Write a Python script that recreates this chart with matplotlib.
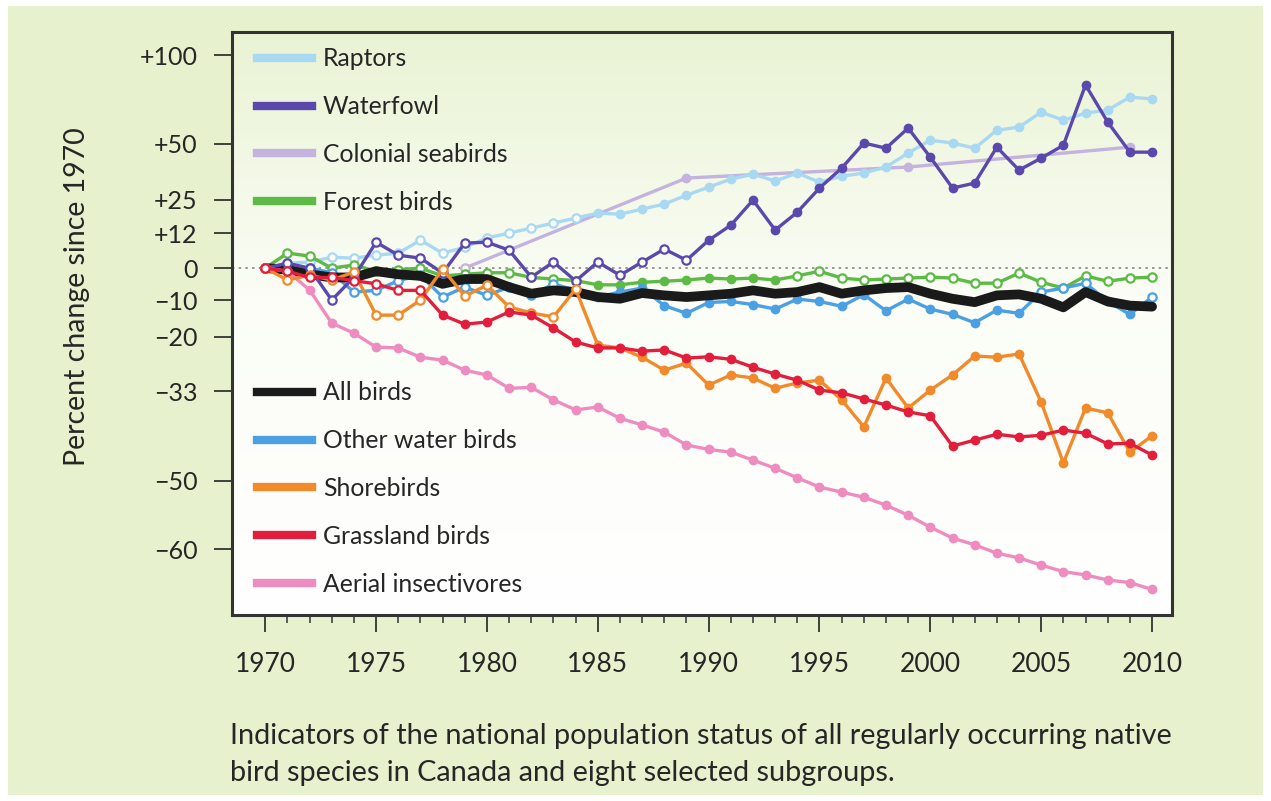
import numpy as np
import matplotlib
matplotlib.use("Agg")
import matplotlib.pyplot as plt
from matplotlib.lines import Line2D
from matplotlib.patches import Rectangle
from matplotlib.colors import LinearSegmentedColormap

plt.rcParams['font.family'] = ['Lato', 'DejaVu Sans']

years = list(range(1970, 2011))

raptors = [0, 1.6, 2.0, 3.6, 3.3, 4.3, 5.0, 9.5, 5.0, 7.0, 10.3, 12.1, 13.9, 15.8, 17.7,
           19.6, 19.2, 21.2, 23.2, 26.8, 30.2, 33.6, 35.8, 32.8, 36.3, 32.3, 34.9, 36.3,
           39.0, 45.5, 51.7, 50.3, 47.8, 56.7, 58.3, 66.2, 61.9, 65.7, 67.3, 74.6, 73.5]
waterfowl = [0, 1.6, 0, -9.9, -2.9, 8.8, 4.3, 3.3, -1.6, 8.5, 8.8, 6.0, -2.9, 2.0, -4.1,
             2.0, -2.3, 2.0, 6.4, 2.6, 9.5, 15.0, 24.8, 13.2, 20.0, 29.8, 38.5, 50.3,
             47.8, 57.8, 43.5, 29.8, 31.9, 48.3, 37.6, 43.1, 49.2, 81.6, 60.9, 45.9, 45.9]
seabird_years = [1979, 1989, 1999, 2009]
seabirds = [0, 34.1, 39.0, 48.3]
forest = [0, 5.0, 4.0, 0, 1.0, -1.0, -0.5, 0, -2.5, -2.0, -1.5, -1.5, -3.0, -3.5, -4.0,
          -5.3, -5.3, -4.5, -4.2, -3.8, -3.2, -3.5, -3.2, -3.8, -2.5, -1.0, -3.2, -3.8,
          -3.5, -3.2, -2.9, -3.2, -4.8, -4.8, -1.6, -4.5, -6.3, -2.5, -4.2, -3.2, -2.9]
all_birds = [0, -0.5, -2.0, -3.0, -3.0, -1.0, -2.0, -2.5, -5.0, -3.5, -3.5, -6.0, -8.0,
             -7.0, -7.5, -9.0, -9.5, -7.8, -8.5, -9.0, -8.5, -8.0, -7.0, -8.0, -7.5, -6.0,
             -8.0, -7.0, -6.3, -6.0, -8.0, -9.5, -10.5, -8.5, -8.2, -9.5, -12.0, -7.5,
             -10.3, -11.5, -11.8]
other_water = [0, -1.0, 0, -1.5, -7.5, -7.0, -4.0, -2.3, -9.0, -6.0, -8.5, -6.0, -8.5,
               -5.0, -7.0, -9.0, -7.5, -6.3, -11.5, -13.7, -10.6, -10.3, -11.2, -12.5,
               -9.6, -10.3, -11.7, -8.3, -13.0, -9.6, -12.5, -14.0, -16.3, -12.8, -13.7,
               -7.5, -6.3, -4.8, -10.3, -14.0, -9.0]
shorebirds = [0, -3.8, -2.3, -3.8, -1.3, -14.2, -14.2, -9.9, -0.3, -8.7, -5.4, -11.9,
              -13.6, -14.7, -6.6, -22.2, -22.9, -25.2, -28.3, -26.6, -31.7, -29.4, -30.1,
              -32.4, -31.2, -30.6, -34.9, -40.4, -30.1, -36.6, -32.8, -29.4, -24.9, -25.2,
              -24.4, -35.4, -47.0, -36.6, -37.6, -45.1, -42.1]
grassland = [0, -1.0, -3.0, -3.0, -4.0, -5.0, -7.0, -7.0, -14.2, -16.7, -16.1, -13.3,
             -14.2, -17.7, -21.4, -22.9, -22.9, -23.7, -23.4, -25.4, -25.1, -25.7, -27.6,
             -29.2, -30.6, -32.8, -33.4, -34.7, -36.0, -37.4, -38.2, -44.0, -42.9, -41.8,
             -42.3, -42.0, -41.0, -41.6, -43.6, -43.5, -45.6]
aerial = [0, -1.0, -6.9, -16.4, -19.1, -22.7, -22.9, -25.2, -25.9, -28.3, -29.4, -32.4,
          -32.2, -34.9, -37.0, -36.4, -38.7, -40.0, -41.4, -43.8, -44.6, -45.1, -46.5,
          -47.9, -49.5, -51.0, -51.8, -52.6, -53.8, -55.3, -57.0, -58.5, -59.4, -60.5,
          -61.1, -62.0, -62.8, -63.2, -63.8, -64.1, -64.9]

ytick_vals = [100, 50, 25, 12, 0, -10, -20, -33, -50, -60]
ytick_labels = ['+100', '+50', '+25', '+12', '0', '\u221210', '\u221220', '\u221233',
                '\u221250', '\u221260']
xtick_vals = list(range(1970, 2011, 5))

labels_top = ['Raptors', 'Waterfowl', 'Colonial seabirds', 'Forest birds']
labels_bottom = ['All birds', 'Other water birds', 'Shorebirds', 'Grassland birds',
                 'Aerial insectivores']

c_rap = '#a9d8f2'
c_wat = '#5a48ac'
c_sea = '#c3b3de'
c_for = '#5cba45'
c_all = '#1a1a1a'
c_oth = '#4aa0e2'
c_sho = '#f08a2a'
c_gra = '#e21e3c'
c_aer = '#ef8cbf'
txt = '#262626'

W, H = 1271, 801
fig = plt.figure(figsize=(W / 100, H / 100), dpi=100, facecolor='white')
fig.patches.append(Rectangle((8 / W, 6 / H), 1 - 16 / W, 1 - 12 / H,
                             transform=fig.transFigure, facecolor='#e7f1cd',
                             edgecolor='none', zorder=-10))

L, R, T, B = 232, 1172, 32, 615
ax = fig.add_axes([L / W, 1 - B / H, (R - L) / W, (B - T) / H])

fwd = lambda p: np.log1p(np.asarray(p, dtype=float) / 100.0)
inv = lambda t: 100.0 * np.expm1(np.asarray(t, dtype=float))
ax.set_yscale('function', functions=(fwd, inv))
ax.set_ylim(-67.7, 115.8)
ax.set_xlim(1968.5, 2010.9)

# background gradient
grad = np.linspace(0, 1, 256).reshape(-1, 1)
cmap = LinearSegmentedColormap.from_list('bg', [(0, '#ffffff'), (0.55, '#fbfdf6'),
                                                (1.0, '#e9f3d4')])
ax.imshow(grad, aspect='auto', cmap=cmap, origin='lower', extent=[0, 1, 0, 1],
          transform=ax.transAxes, zorder=0)
ax.set_facecolor('white')

ax.axhline(0, color='#888888', lw=1.2, ls=(0, (1.5, 2.5)), zorder=1)

yr = np.array(years)


def series(x, y, color, filled_mask, lw=2.4, ms=6, z=3):
    x = np.asarray(x)
    y = np.asarray(y)
    ax.plot(x, y, color=color, lw=lw, zorder=z, solid_capstyle='round')
    fm = np.asarray(filled_mask, dtype=bool)
    ax.plot(x[fm], y[fm], ls='none', marker='o', ms=ms, color=color,
            markeredgecolor=color, zorder=z + 0.1)
    ax.plot(x[~fm], y[~fm], ls='none', marker='o', ms=ms, markerfacecolor='white',
            markeredgecolor=color, markeredgewidth=1.6, zorder=z + 0.1)


series(seabird_years, seabirds, c_sea, [False, True, True, True], z=2)
series(yr, raptors, c_rap, yr >= 1985, z=2.5)
series(yr, forest, c_for, (yr >= 1985) & (yr <= 1993), z=3)
series(yr, other_water, c_oth, (yr >= 1985) & ((yr <= 2004) | (yr == 2008) | (yr == 2009)), z=3.5)
ax.plot(yr, all_birds, color=c_all, lw=7, zorder=4, solid_capstyle='round')
series(yr, waterfowl, c_wat, yr >= 1990, z=5)
series(yr, shorebirds, c_sho, yr >= 1985, z=5.5)
series(yr, grassland, c_gra, yr >= 1978, z=5.6)
series(yr, aerial, c_aer, yr >= 1972, z=5.4)

ax.set_yticks(ytick_vals)
ax.set_yticklabels(ytick_labels)
ax.yaxis.set_minor_locator(matplotlib.ticker.NullLocator())
ax.set_xticks(xtick_vals)
ax.set_xticklabels([str(v) for v in xtick_vals])
ax.set_xticks(years, minor=True)

ax.tick_params(axis='y', which='major', direction='out', length=13, width=1.3,
               color='#333333', labelsize=18, pad=12, labelcolor=txt)
ax.tick_params(axis='x', which='major', direction='out', length=12, width=1.3,
               color='#333333', labelsize=19, pad=15, labelcolor=txt)
ax.tick_params(axis='x', which='minor', direction='out', length=6, width=1.1,
               color='#333333')
for s in ax.spines.values():
    s.set_linewidth(2.2)
    s.set_color('#333333')

fig.text(77 / W, 1 - 297 / H, 'Percent change since 1970', rotation=90, ha='center',
         va='center', fontsize=20.5, color=txt)

fs_leg = 17.8
h_top = [Line2D([], [], color=c, lw=6) for c in [c_rap, c_wat, c_sea, c_for]]
h_bot = [Line2D([], [], color=c, lw=6) for c in [c_all, c_oth, c_sho, c_gra, c_aer]]
px = fs_leg * 100 / 72
common = dict(frameon=False, fontsize=fs_leg, handlelength=55 / px,
              handletextpad=11 / px, labelspacing=48 / px - 0.94, borderpad=0,
              borderaxespad=0, loc='upper left', labelcolor=txt)
leg1 = ax.legend(h_top, labels_top,
                 bbox_to_anchor=((257 - L) / (R - L), (B - 47.5) / (B - T)), **common)
ax.add_artist(leg1)
ax.legend(h_bot, labels_bottom,
          bbox_to_anchor=((257 - L) / (R - L), (B - 381.5) / (B - T)), **common)

fig.text(230 / W, 1 - 736 / H,
         'Indicators of the national population status of all regularly occurring native',
         fontsize=20.8, va='center', ha='left', color=txt)
fig.text(230 / W, 1 - 773 / H,
         'bird species in Canada and eight selected subgroups.',
         fontsize=20.8, va='center', ha='left', color=txt)

fig.savefig('out.png', dpi=100, facecolor=fig.get_facecolor())
